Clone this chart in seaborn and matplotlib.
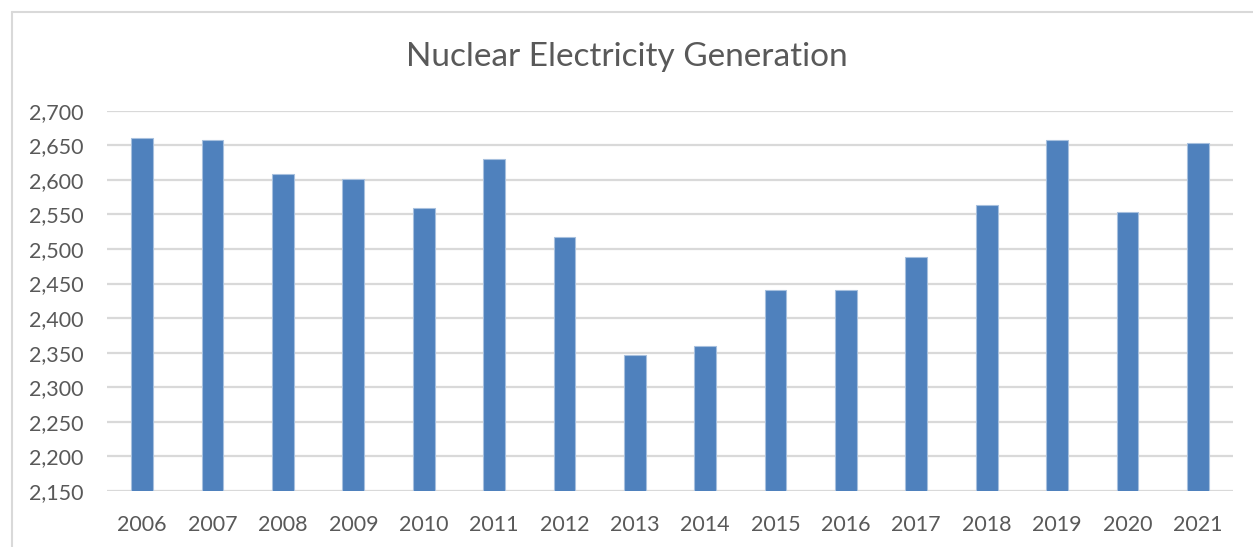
import pandas as pd
import seaborn as sns
import matplotlib.pyplot as plt
import matplotlib.ticker as mticker
from matplotlib.lines import Line2D

# -----------------------------------------------------------------------------
# Data
# -----------------------------------------------------------------------------
years = ["2006", "2007", "2008", "2009", "2010", "2011", "2012", "2013",
         "2014", "2015", "2016", "2017", "2018", "2019", "2020", "2021"]
generation = [2661, 2658, 2608, 2601, 2560, 2630, 2518, 2346,
              2359, 2441, 2441, 2489, 2563, 2657, 2553, 2653]
title = "Nuclear Electricity Generation"

# -----------------------------------------------------------------------------
# Plotting attributes
# -----------------------------------------------------------------------------
sns.set_theme(style="white")
plt.rcParams["font.family"] = ["Lato", "DejaVu Sans"]

bar_color = "#4F81BD"
grid_color = "#D9D9D9"
text_color = "#595959"
W, H = 1253, 547

df = pd.DataFrame({"year": years, "generation": generation})

fig = plt.figure(figsize=(W / 100, H / 100), dpi=100)
ax = fig.add_axes([107 / W, 1 - 491 / H, 1126 / W, (491 - 110.7) / H])

sns.barplot(data=df, x="year", y="generation", color=bar_color, width=0.31,
            saturation=1, edgecolor="#A7C0DE", linewidth=0.8, ax=ax, zorder=3)

ax.set_ylim(2150, 2700)
ax.set_xlim(-0.5, len(years) - 0.5)
ax.yaxis.set_major_locator(mticker.MultipleLocator(50))
ax.yaxis.set_major_formatter(mticker.FuncFormatter(lambda v, p: "{:,.0f}".format(v)))
ax.grid(axis="y", color=grid_color, lw=1.6, zorder=0)
ax.grid(axis="x", visible=False)
ax.set_axisbelow(True)
ax.set(xlabel=None, ylabel=None)
sns.despine(ax=ax, left=True, bottom=True)
ax.tick_params(axis="y", length=0, pad=17, labelsize=15.5, labelcolor=text_color)
ax.tick_params(axis="x", length=0, pad=17, labelsize=15.5, labelcolor=text_color)

fig.text(0.5, 1 - 57 / H, title, ha="center", va="center", fontsize=24, color=text_color)

# Chart area border (clipped at right and bottom edges)
fig.add_artist(Line2D([12 / W, 1], [1 - 12 / H, 1 - 12 / H], color="#D9D9D9", lw=1.5))
fig.add_artist(Line2D([12 / W, 12 / W], [0, 1 - 12 / H], color="#D9D9D9", lw=1.5))

plt.savefig("out.png", dpi=100)
